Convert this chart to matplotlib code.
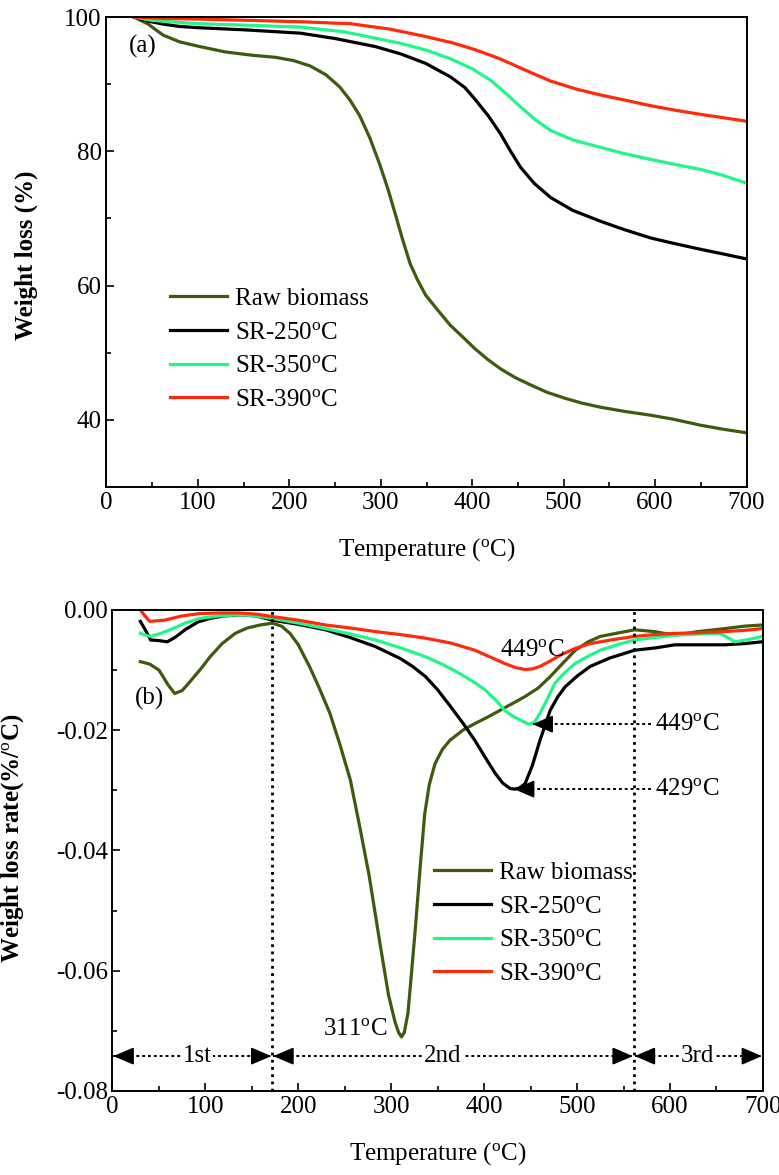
import matplotlib
matplotlib.use("Agg")
import matplotlib.pyplot as plt
from matplotlib.ticker import MultipleLocator

plt.rcParams["font.family"] = ["Liberation Serif", "DejaVu Serif"]
plt.rcParams["mathtext.fontset"] = "custom"
plt.rcParams["mathtext.rm"] = "Liberation Serif"
plt.rcParams["mathtext.it"] = "Liberation Serif:italic"
plt.rcParams["mathtext.bf"] = "Liberation Serif:bold"
plt.rcParams["font.size"] = 18

DEG = r"$^{\rm o}$C"
labels = ["Raw biomass", "SR-250" + DEG, "SR-350" + DEG, "SR-390" + DEG]
colors = ["#3f5a0c", "#000000", "#22f58a", "#ff2a0a"]

### (a) TG curves
tg_raw_T = [30, 45, 62, 80, 102, 130, 160, 185, 205, 223, 240, 255, 266, 277,
            288, 299, 308, 316, 324, 332, 340, 349, 362, 376, 390, 403, 417,
            431, 447, 464, 482, 502, 520, 540, 565, 595, 620, 650, 675, 699]
tg_raw_W = [100, 99.0, 97.3, 96.3, 95.6, 94.8, 94.3, 94.0, 93.5, 92.7, 91.4,
            89.6, 87.7, 85.3, 82.0, 78.0, 74.3, 70.6, 66.8, 63.3, 60.9, 58.6,
            56.4, 54.1, 52.3, 50.6, 49.0, 47.6, 46.3, 45.2, 44.1, 43.2, 42.5,
            41.9, 41.3, 40.7, 40.1, 39.2, 38.6, 38.1]
tg_250_T = [30, 45, 64, 80, 102, 150, 212, 250, 294, 322, 349, 376, 392, 404,
            418, 431, 442, 453, 468, 486, 510, 540, 565, 595, 620, 650, 675, 699]
tg_250_W = [100, 99.4, 98.9, 98.6, 98.4, 98.1, 97.6, 96.8, 95.6, 94.5, 93.1,
            91.1, 89.5, 87.6, 85.2, 82.6, 80.0, 77.6, 75.2, 73.1, 71.2, 69.6,
            68.4, 67.1, 66.3, 65.4, 64.7, 64.0]
tg_350_T = [30, 50, 80, 102, 150, 212, 260, 321, 349, 376, 400, 420, 437, 453,
            470, 486, 510, 540, 565, 595, 620, 650, 675, 699]
tg_350_W = [100, 99.5, 99.2, 99.0, 98.8, 98.5, 97.8, 96.1, 95.1, 93.8, 92.3,
            90.6, 88.6, 86.6, 84.6, 83.1, 81.7, 80.6, 79.7, 78.8, 78.1, 77.3,
            76.4, 75.3]
tg_390_T = [30, 60, 100, 157, 212, 267, 310, 349, 380, 404, 430, 458, 485, 513,
            540, 568, 595, 623, 650, 675, 699]
tg_390_W = [100, 99.8, 99.7, 99.5, 99.3, 99.0, 98.2, 97.1, 96.1, 95.1, 93.8,
            92.1, 90.5, 89.3, 88.4, 87.6, 86.8, 86.1, 85.5, 85.0, 84.5]

### (b) DTG curves
dtg_raw_T = [30, 40, 50, 60, 67, 75, 83, 95, 105, 118, 132, 145, 159, 172, 182,
             191, 200, 212, 222, 234, 245, 256, 266, 276, 288, 297, 304, 308,
             311, 314, 318, 322, 326, 331, 336, 341, 347, 355, 363, 377, 390,
             404, 417, 430, 444, 458, 471, 485, 498, 512, 525, 545, 562, 583,
             605, 630, 659, 680, 699]
dtg_raw_R = [-0.0086, -0.0090, -0.0100, -0.0125, -0.0139, -0.0134, -0.0120,
             -0.0098, -0.0078, -0.0056, -0.0039, -0.0030, -0.0025, -0.0022,
             -0.0027, -0.0039, -0.0058, -0.0094, -0.0128, -0.0172, -0.0225,
             -0.0283, -0.0360, -0.0440, -0.0556, -0.0640, -0.0685, -0.0703,
             -0.0710, -0.0703, -0.0670, -0.0600, -0.0528, -0.0430, -0.0339,
             -0.0290, -0.0256, -0.0232, -0.0217, -0.0200, -0.0189, -0.0178,
             -0.0167, -0.0156, -0.0144, -0.0130, -0.0111, -0.0088, -0.0067,
             -0.0053, -0.0044, -0.0038, -0.0033, -0.0036, -0.0042, -0.0036,
             -0.0031, -0.0027, -0.0025]
dtg_250_T = [30, 36, 41, 50, 59, 68, 78, 92, 105, 120, 137, 155, 172, 200, 229,
             256, 283, 310, 323, 337, 350, 364, 377, 390, 401, 412, 420, 428,
             433, 438, 444, 452, 460, 466, 471, 479, 487, 500, 514, 535, 562,
             585, 605, 630, 659, 680, 699]
dtg_250_R = [-0.0019, -0.0035, -0.0050, -0.0051, -0.0053, -0.0045, -0.0033,
             -0.0020, -0.0014, -0.0010, -0.0008, -0.0010, -0.0017, -0.0024,
             -0.0033, -0.0046, -0.0061, -0.0081, -0.0094, -0.0111, -0.0133,
             -0.0161, -0.0188, -0.0217, -0.0245, -0.0272, -0.0288, -0.0297,
             -0.0298, -0.0296, -0.0289, -0.0258, -0.0217, -0.0190, -0.0167,
             -0.0145, -0.0128, -0.0110, -0.0094, -0.0080, -0.0067, -0.0063,
             -0.0058, -0.0058, -0.0058, -0.0056, -0.0053]
dtg_350_T = [30, 40, 50, 62, 78, 94, 115, 137, 155, 172, 200, 229, 256, 283,
             310, 337, 356, 374, 388, 401, 412, 422, 431, 439, 445, 449, 454,
             460, 468, 476, 487, 498, 512, 525, 545, 562, 583, 605, 630, 654,
             662, 670, 685, 699]
dtg_350_R = [-0.0039, -0.0044, -0.0040, -0.0033, -0.0022, -0.0014, -0.0010,
             -0.0008, -0.0010, -0.0014, -0.0022, -0.0031, -0.0040, -0.0050,
             -0.0063, -0.0078, -0.0091, -0.0106, -0.0119, -0.0133, -0.0149,
             -0.0167, -0.0177, -0.0183, -0.0188, -0.0190, -0.0187, -0.0172,
             -0.0148, -0.0122, -0.0104, -0.0089, -0.0077, -0.0067, -0.0057,
             -0.0050, -0.0046, -0.0042, -0.0040, -0.0039, -0.0046, -0.0053,
             -0.0049, -0.0044]
dtg_390_T = [30, 35, 40, 56, 75, 94, 115, 137, 155, 172, 200, 229, 256, 283,
             310, 337, 364, 390, 406, 422, 434, 444, 452, 460, 471, 482, 498,
             514, 540, 562, 583, 605, 630, 659, 680, 699]
dtg_390_R = [0.0000, -0.0010, -0.0019, -0.0017, -0.0010, -0.0006, -0.0005,
             -0.0005, -0.0007, -0.0011, -0.0017, -0.0025, -0.0030, -0.0036,
             -0.0041, -0.0047, -0.0055, -0.0067, -0.0078, -0.0089, -0.0096,
             -0.0099, -0.0098, -0.0094, -0.0085, -0.0075, -0.0064, -0.0056,
             -0.0049, -0.0044, -0.0041, -0.0039, -0.0038, -0.0036, -0.0034,
             -0.0031]

stage_bounds = [0, 172, 561, 700]
stage_names = ["1st", "2nd", "3rd"]
stage_text_T = [91, 355, 630]
peaks = [(449, -0.0099, "449" + DEG), (449, -0.0190, "449" + DEG),
         (429, -0.0298, "429" + DEG), (311, -0.0710, "311" + DEG)]

fig = plt.figure(figsize=(7.79, 11.75), dpi=100)
ax1 = fig.add_axes([0.1367, 0.5855, 0.8216, 0.4])
ax2 = fig.add_axes([0.1444, 0.0715, 0.835, 0.4094])


def style(ax):
    ax.tick_params(which="both", direction="in", top=False, right=False,
                   width=1.2)
    ax.tick_params(which="major", length=5.5)
    ax.tick_params(which="minor", length=3.5)
    for s in ax.spines.values():
        s.set_linewidth(1.4)
    ax.xaxis.set_minor_locator(MultipleLocator(50))


for T, W, c, lab in zip([tg_raw_T, tg_250_T, tg_350_T, tg_390_T],
                        [tg_raw_W, tg_250_W, tg_350_W, tg_390_W], colors, labels):
    ax1.plot(T, W, color=c, lw=2.3, label=lab)
ax1.set_xlim(0, 700)
ax1.set_ylim(30, 100)
ax1.xaxis.set_major_locator(MultipleLocator(100))
ax1.yaxis.set_minor_locator(MultipleLocator(10))
ax1.set_yticks([40, 60, 80, 100])
style(ax1)
ax1.set_xlabel("Temperature (" + DEG + ")", labelpad=16)
ax1.set_ylabel("Weight loss (%)", fontweight="bold")
ax1.yaxis.set_label_coords(-0.107, 0.494)
ax1.text(24, 95.6, "(a)", va="center")
ax1.legend(loc="upper left", bbox_to_anchor=(0.099, 0.425), frameon=False,
           handlelength=2.3, handletextpad=0.3, labelspacing=0.45,
           borderpad=0, borderaxespad=0)

for T, R, c, lab in zip([dtg_raw_T, dtg_250_T, dtg_350_T, dtg_390_T],
                        [dtg_raw_R, dtg_250_R, dtg_350_R, dtg_390_R], colors, labels):
    ax2.plot(T, R, color=c, lw=2.3, label=lab)
ax2.set_xlim(0, 700)
ax2.set_ylim(-0.08, 0.0)
ax2.xaxis.set_major_locator(MultipleLocator(100))
ax2.yaxis.set_major_locator(MultipleLocator(0.02))
ax2.yaxis.set_minor_locator(MultipleLocator(0.01))
ax2.yaxis.set_major_formatter(lambda v, p: f"{v:.2f}".replace("-0.00", "0.00"))
style(ax2)
ax2.set_xlabel("Temperature (" + DEG + ")", labelpad=16)
ax2.set_ylabel("Weight loss rate(%/" + DEG + ")", fontweight="bold")
ax2.yaxis.set_label_coords(-0.133, 0.526)
ax2.text(24, -0.0148, "(b)", va="center")
ax2.legend(loc="upper left", bbox_to_anchor=(0.494, 0.4775), frameon=False,
           handlelength=2.3, handletextpad=0.3, labelspacing=0.45,
           borderpad=0, borderaxespad=0)

# stage boundaries
for b in stage_bounds[1:3]:
    ax2.axvline(b, color="black", ls=(0, (1, 1.6)), lw=2.0)

head = dict(arrowstyle="-|>,head_length=0.7,head_width=0.3", color="black",
            lw=1.2, shrinkA=0, shrinkB=0)


def dotted_arrow(ax, x0, x1, y, both=False):
    ax.plot([x0, x1], [y, y], color="black", ls=(0, (1.5, 1.5)), lw=1.4)
    ax.annotate("", xy=(x1, y), xytext=(x1 + (9 if x0 > x1 else -9), y),
                arrowprops=head)
    if both:
        ax.annotate("", xy=(x0, y), xytext=(x0 + (9 if x1 > x0 else -9), y),
                    arrowprops=head)


yrow = -0.0742
for i, name in enumerate(stage_names):
    a, b = stage_bounds[i], stage_bounds[i + 1]
    dotted_arrow(ax2, a + 1, b - 1, yrow, both=True)
    ax2.text(stage_text_T[i], yrow, name, ha="center", va="center",
             bbox=dict(facecolor="white", edgecolor="none", pad=1))

# peak labels
ax2.text(452, -0.0067, peaks[0][2], ha="center", va="center")
for (pT, pR, lab) in peaks[1:3]:
    dotted_arrow(ax2, 580, pT + 3, pR)
    ax2.text(584, pR, lab, ha="left", va="center")
ax2.text(296, -0.0697, peaks[3][2], ha="right", va="center")

plt.savefig("out.png", dpi=100)
